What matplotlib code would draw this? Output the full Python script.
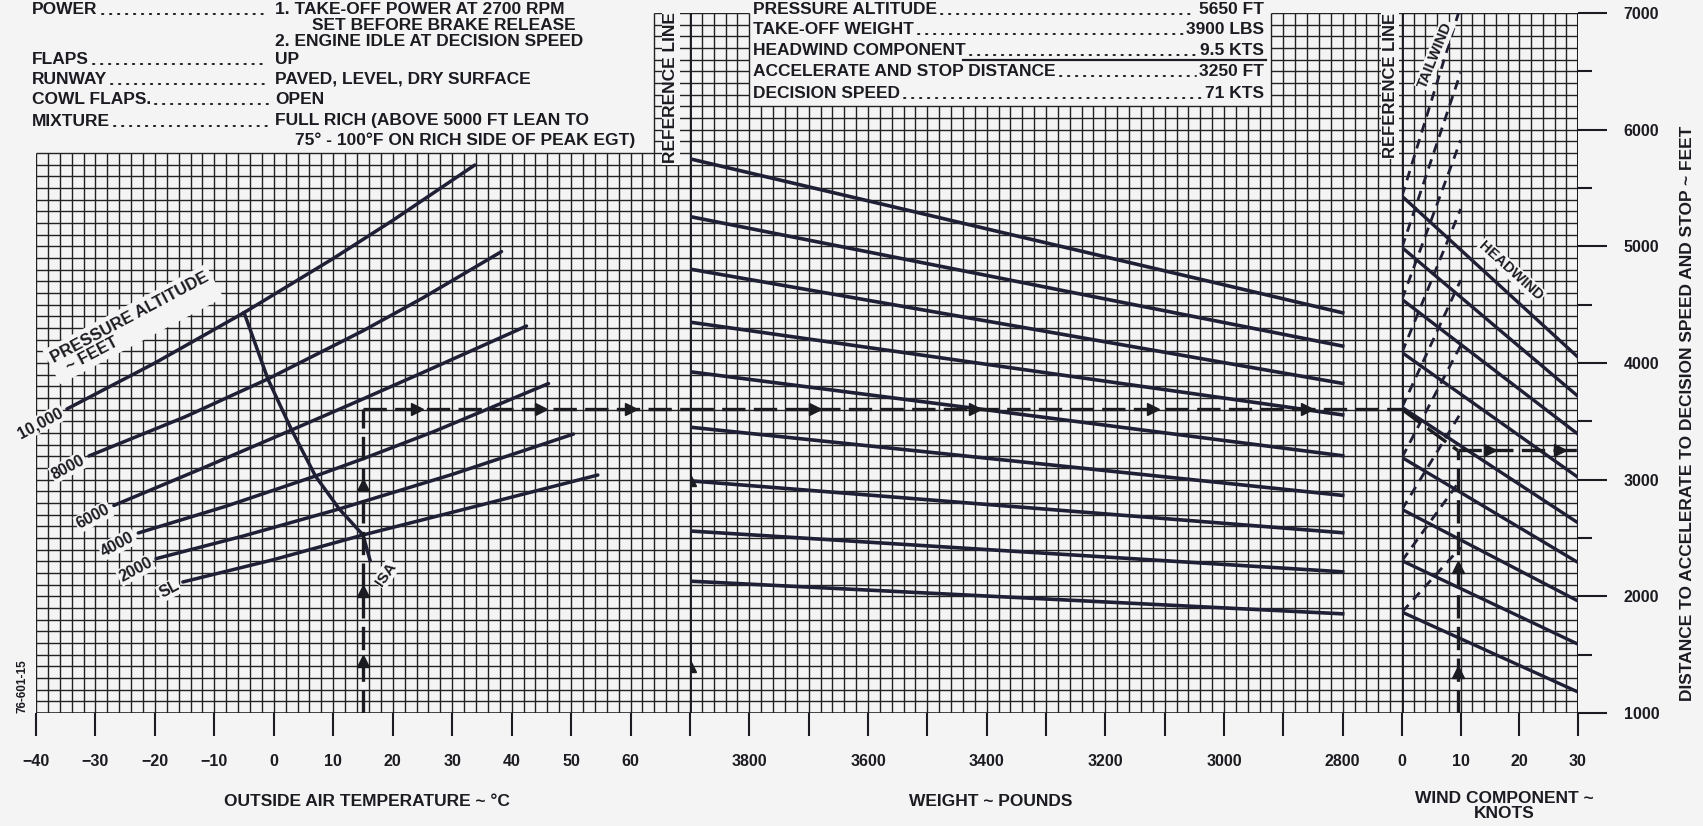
import matplotlib
matplotlib.use("Agg")
import matplotlib.pyplot as plt
import numpy as np
from matplotlib.lines import Line2D

plt.rcParams['font.family'] = ['Liberation Sans', 'DejaVu Sans']
plt.rcParams['font.weight'] = 'bold'

BG = '#f4f4f4'
INK = '#1b1b22'
CURVE = '#1f1f36'
GRID = '#222222'

# ---------------- axis ranges and ticks ----------------
temp_range = (-40, 70)
weight_range = (3900, 2700)
wind_range = (0, 30)
dist_range = (1000, 7000)

temp_ticks = [-40, -30, -20, -10, 0, 10, 20, 30, 40, 50, 60]
temp_labels = ['\u221240', '\u221230', '\u221220', '\u221210', '0', '10', '20', '30', '40', '50', '60']
weight_ticks = [3900, 3800, 3700, 3600, 3500, 3400, 3300, 3200, 3100, 3000, 2900, 2800]
weight_labels = ['', '3800', '', '3600', '', '3400', '', '3200', '', '3000', '', '2800']
wind_ticks = [0, 10, 20, 30]
dist_ticks = [1000, 2000, 3000, 4000, 5000, 6000, 7000]
dist_minor = [1500, 2500, 3500, 4500, 5500, 6500]

# ---------------- pressure altitude curves (OAT vs chart level) ----------------
alt_names = ['SL', '2000', '4000', '6000', '8000', '10,000']
alt_temps = [
    [-15.3, 0, 15, 35, 54.5],
    [-19.8, -5, 11, 30, 50.4],
    [-22.8, -8, 7, 15, 27, 46.2],
    [-26.9, -12, 3, 15, 25, 42.5],
    [-31.1, -15, -1, 15, 25, 38.3],
    [-34.8, -20, -5, 10, 20, 33.8],
]
alt_levels = [
    [2123, 2315, 2526, 2785, 3040],
    [2323, 2519, 2749, 3045, 3391],
    [2543, 2773, 3031, 3179, 3414, 3824],
    [2779, 3098, 3426, 3692, 3917, 4317],
    [3203, 3537, 3863, 4276, 4556, 4955],
    [3606, 4000, 4432, 4896, 5222, 5697],
]
isa_temps = [-5, -1, 3, 7, 11, 15, 16.2]
isa_levels = [4432, 3863, 3426, 3031, 2749, 2526, 2306]

# ---------------- weight guide lines (3900 lb -> 2800 lb) ----------------
weight_start = [5750, 5255, 4805, 4350, 3925, 3450, 2990, 2560, 2130]
weight_end = [4430, 4145, 3825, 3555, 3205, 2865, 2545, 2210, 1850]
weight_line_span = (3900, 2800)

# ---------------- wind guide lines ----------------
head_start = [5430, 4990, 4545, 4090, 3620, 3190, 2745, 2305, 1865]
head_end = [4050, 3715, 3390, 3020, 2630, 2290, 1960, 1590, 1180]   # at 30 kt
tail_end = [7060, 6490, 5910, 5320, 4710, 4150, 3570, 3000, 2420]   # at 10 kt

# ---------------- worked example ----------------
ex_oat = 15
ex_alt = 5650
ex_weight = 3900
ex_wind = 9.5
ex_distance = 3250
ex_speed = 71

# ---------------- figure and panels ----------------
FW, FH = 1703, 826
fig = plt.figure(figsize=(FW / 100, FH / 100), dpi=100, facecolor=BG)


def fx(px):
    return px / FW


def fy(py):
    return 1 - py / FH


Y_BOT, Y_TOP = 713, 13
hgt = (Y_BOT - Y_TOP) / FH
ax_t = fig.add_axes([fx(36), fy(Y_BOT), (690 - 36) / FW, hgt])
ax_w = fig.add_axes([fx(690), fy(Y_BOT), (1402 - 690) / FW, hgt])
ax_k = fig.add_axes([fx(1402), fy(Y_BOT), (1578 - 1402) / FW, hgt])

for ax in (ax_t, ax_w, ax_k):
    ax.set_facecolor('none')
    ax.set_ylim(*dist_range)
    for s in ax.spines.values():
        s.set_visible(False)
    ax.tick_params(axis='x', direction='out', length=16.5, width=1.5, pad=13,
                   labelsize=11.5, colors=INK)
ax_t.set_xlim(*temp_range)
ax_w.set_xlim(*weight_range)
ax_k.set_xlim(*wind_range)

ax_t.set_xticks(temp_ticks, temp_labels)
ax_w.set_xticks(weight_ticks, weight_labels)
ax_k.set_xticks(wind_ticks, [str(v) for v in wind_ticks])
ax_t.set_yticks([])
ax_w.set_yticks([])
ax_k.yaxis.tick_right()
ax_k.set_yticks(dist_ticks, [str(v) for v in dist_ticks])
ax_k.set_yticks(dist_minor, minor=True)
ax_k.tick_params(axis='y', which='major', direction='out', length=21, width=1.5,
                 pad=12, labelsize=11.5, colors=INK)
ax_k.tick_params(axis='y', which='minor', direction='out', length=10, width=1.5,
                 colors=INK)

# ---------------- graph-paper grid ----------------
GLW = 1.0
levels = np.arange(dist_range[0], dist_range[1] + 1, 100)

# temperature panel: header text occupies the top except a strip by the reference line
T_STRIP, T_TOP = 64, 5800
for t in np.arange(temp_range[0], temp_range[1] + 1, 2):
    top = dist_range[1] if t >= T_STRIP else T_TOP
    ax_t.vlines(t, dist_range[0], top, color=GRID, lw=GLW, zorder=1)
for d in levels:
    x_from = temp_range[0] if d <= T_TOP else T_STRIP
    ax_t.hlines(d, x_from, temp_range[1], color=GRID, lw=GLW, zorder=1)

# weight panel: results box cut out of the top
BOX_W = (3800, 2920)
BOX_D = 6200
for w in np.arange(weight_range[0], weight_range[1] - 1, -20):
    top = BOX_D if BOX_W[1] < w < BOX_W[0] else dist_range[1]
    ax_w.vlines(w, dist_range[0], top, color=GRID, lw=GLW, zorder=1)
for d in levels:
    if d <= BOX_D:
        ax_w.hlines(d, weight_range[0], weight_range[1], color=GRID, lw=GLW, zorder=1)
    else:
        ax_w.hlines(d, weight_range[0], BOX_W[0], color=GRID, lw=GLW, zorder=1)
        ax_w.hlines(d, BOX_W[1], weight_range[1], color=GRID, lw=GLW, zorder=1)

# wind panel
for k in np.arange(wind_range[0], wind_range[1] + 1, 2):
    ax_k.vlines(k, dist_range[0], dist_range[1], color=GRID, lw=GLW, zorder=1)
ax_k.hlines(levels, wind_range[0], wind_range[1], color=GRID, lw=GLW, zorder=1)

# panel borders and reference lines
ax_t.hlines(dist_range[0], temp_range[0], temp_range[1], color=INK, lw=1.8, zorder=2)
ax_w.hlines(dist_range[0], weight_range[0], weight_range[1], color=INK, lw=1.8, zorder=2)
ax_k.hlines(dist_range[0], wind_range[0], wind_range[1], color=INK, lw=1.8, zorder=2)
ax_w.axvline(weight_range[0], color=INK, lw=2.8, zorder=3)
ax_k.axvline(wind_range[0], color=INK, lw=2.8, zorder=3)
ax_k.axvline(wind_range[1], color=INK, lw=2.2, zorder=3)
ax_k.hlines(dist_range[1], wind_range[0], wind_range[1], color=INK, lw=1.5, zorder=2)

# ---------------- temperature / altitude panel ----------------
for name, ts, ds in zip(alt_names, alt_temps, alt_levels):
    ax_t.plot(ts, ds, color=CURVE, lw=2.5, zorder=3, solid_capstyle='round')
    ax_t.text(ts[0] - 0.8, ds[0] - 25, name, rotation=28, rotation_mode='anchor',
              ha='right', va='center', fontsize=11.5, color=INK, zorder=5,
              bbox=dict(boxstyle='square,pad=0.08', fc=BG, ec='none'))
ax_t.plot(isa_temps, isa_levels, color=CURVE, lw=2.5, zorder=3)
ax_t.text(18.9, 2191, 'ISA', rotation=55, ha='center', va='center', fontsize=11,
          color=INK, zorder=5, bbox=dict(boxstyle='square,pad=0.08', fc=BG, ec='none'))
ax_t.text(-23.7, 4334, 'PRESSURE ALTITUDE\n  ~ FEET', rotation=28, rotation_mode='anchor',
          ha='center', va='center', multialignment='left', fontsize=12, color=INK,
          linespacing=1.0, zorder=5,
          bbox=dict(boxstyle='square,pad=0.25', fc=BG, ec='none'))
ax_t.text(66.8, 6357, 'REFERENCE LINE', rotation=90, ha='center', va='center',
          fontsize=12.5, color=INK, zorder=5,
          bbox=dict(boxstyle='square,pad=0.1', fc=BG, ec='none'))

# level of the example on the 5650 ft pressure altitude line at 15 °C
lo = np.interp(ex_oat, alt_temps[2], alt_levels[2])
hi = np.interp(ex_oat, alt_temps[3], alt_levels[3])
ex_level = lo + (hi - lo) * (ex_alt - 4000) / 2000.0

DASH = dict(color=INK, lw=2.4, linestyle=(0, (7, 2.5)), zorder=4)
AR = dict(color=INK, ms=9, linestyle='none', zorder=6)

ax_t.plot([ex_oat, ex_oat], [dist_range[0], ex_level], **DASH)
ax_t.plot([ex_oat, temp_range[1]], [ex_level, ex_level], **DASH)
ax_t.plot([ex_oat] * 3, [1450, 2050, 2950], marker='^', **AR)
ax_t.plot([24, 45, 60], [ex_level] * 3, marker='>', **AR)

# ---------------- weight panel ----------------
for s, e in zip(weight_start, weight_end):
    ax_w.plot(weight_line_span, [s, e], color=CURVE, lw=2.6, zorder=3)
ax_w.plot(weight_range, [ex_level, ex_level], **DASH)
ax_w.plot([3690, 3420, 3120, 2860], [ex_level] * 4, marker='>', **AR)
ax_w.plot([ex_weight] * 2, [1400, 3000], marker='^', **AR)
ax_w.text(2720, 6383, 'REFERENCE LINE', rotation=90, ha='center', va='center',
          fontsize=12, color=INK, zorder=5,
          bbox=dict(boxstyle='square,pad=0.1', fc=BG, ec='none'))

# ---------------- wind panel ----------------
for s, e in zip(head_start, head_end):
    ax_k.plot([0, 30], [s, e], color=CURVE, lw=2.4, zorder=3)
for s, e in zip(head_start, tail_end):
    ax_k.plot([0, 10], [s, e], color=CURVE, lw=2.0, linestyle=(0, (3.5, 2.5)), zorder=3)
ax_k.plot([0, ex_wind], [ex_level, ex_distance], **DASH)
ax_k.plot([ex_wind, wind_range[1]], [ex_distance, ex_distance], **DASH)
ax_k.plot([ex_wind, ex_wind], [dist_range[0], ex_distance], **DASH)
ax_k.plot([ex_wind] * 2, [1350, 2250], marker='^', **AR)
ax_k.plot([15, 27], [ex_distance] * 2, marker='>', **AR)
ax_k.text(5.6, 6640, 'TAILWIND', rotation=68, ha='center', va='center', fontsize=10.5,
          color=INK, zorder=5, bbox=dict(boxstyle='square,pad=0.08', fc=BG, ec='none'))
ax_k.text(18.6, 4790, 'HEADWIND', rotation=-42, ha='center', va='center', fontsize=10.5,
          color=INK, zorder=5, bbox=dict(boxstyle='square,pad=0.08', fc=BG, ec='none'))

# ---------------- axis titles ----------------
fig.text(fx(367), fy(802), 'OUTSIDE AIR TEMPERATURE ~ \u00b0C', ha='center', va='center',
         fontsize=12.5, color=INK)
fig.text(fx(991), fy(802), 'WEIGHT ~ POUNDS', ha='center', va='center',
         fontsize=12.5, color=INK)
fig.text(fx(1504), fy(806), 'WIND COMPONENT ~\nKNOTS', ha='center', va='center',
         fontsize=12.5, color=INK, linespacing=1.0)
fig.text(fx(1687), fy(413), 'DISTANCE TO ACCELERATE TO DECISION SPEED AND STOP ~ FEET',
         rotation=90, ha='center', va='center', fontsize=12.5, color=INK)
fig.text(fx(23), fy(686), '76-601-15', rotation=90, ha='center', va='center',
         fontsize=8.5, color=INK)

# ---------------- header: conditions and example ----------------
HFS = 12.5
leaders = []


def row(label, value, x_label, y_base, x_dots_end=None, x_value=None, value_right=None):
    t1 = None
    if label:
        t1 = fig.text(fx(x_label), fy(y_base), label, ha='left', va='baseline',
                      fontsize=HFS, color=INK)
    if value_right is not None:
        t2 = fig.text(fx(value_right), fy(y_base), value, ha='right', va='baseline',
                      fontsize=HFS, color=INK)
    else:
        t2 = fig.text(fx(x_value), fy(y_base), value, ha='left', va='baseline',
                      fontsize=HFS, color=INK)
    if t1 is not None:
        leaders.append((t1, t2, y_base, x_dots_end))


conditions = [
    ('POWER', '1. TAKE-OFF POWER AT 2700 RPM', 14),
    ('FLAPS', 'UP', 64),
    ('RUNWAY', 'PAVED, LEVEL, DRY SURFACE', 84),
    ('COWL FLAPS.', 'OPEN', 104),
    ('MIXTURE', 'FULL RICH (ABOVE 5000 FT LEAN TO', 125.5),
]
for lab, val, yb in conditions:
    row(lab, val, 32, yb, x_dots_end=268, x_value=275)
row(None, 'SET BEFORE BRAKE RELEASE', 0, 29.5, x_value=312)
row(None, '2. ENGINE IDLE AT DECISION SPEED', 0, 45.5, x_value=275)
row(None, '75\u00b0 - 100\u00b0F ON RICH SIDE OF PEAK EGT)', 0, 145.5, x_value=295)

example = [
    ('PRESSURE ALTITUDE', f'{ex_alt} FT', 14),
    ('TAKE-OFF WEIGHT', f'{ex_weight} LBS', 34),
    ('HEADWIND COMPONENT', f'{ex_wind} KTS', 55),
    ('ACCELERATE AND STOP DISTANCE', f'{ex_distance} FT', 76),
    ('DECISION SPEED', f'{ex_speed} KTS', 98),
]
for lab, val, yb in example:
    row(lab, val, 753, yb, value_right=1264)
fig.add_artist(Line2D([fx(963), fx(1266)], [fy(60), fy(60)], color=INK, lw=1.6))

renderer = fig.canvas.get_renderer()
for t1, t2, yb, x_end in leaders:
    b1 = t1.get_window_extent(renderer)
    x0 = b1.x1 + 4
    if x_end is not None:
        x1 = x_end
    else:
        x1 = t2.get_window_extent(renderer).x0 - 3
    ypix = fy(yb) * FH
    fig.add_artist(Line2D([x0 / FW, x1 / FW], [ypix / FH, ypix / FH], color=INK,
                          lw=1.4, linestyle=(0, (0.7, 3.4)), dash_capstyle='round'))

fig.savefig('out.png', dpi=100, facecolor=BG)
